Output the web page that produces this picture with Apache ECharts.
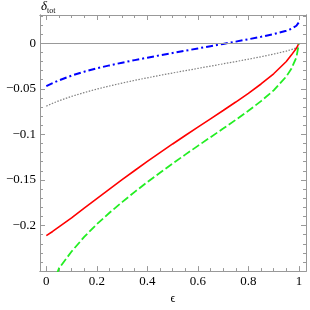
<!DOCTYPE html>
<html>
<head>
<meta charset="utf-8">
<script src="https://cdn.jsdelivr.net/npm/echarts@6/dist/echarts.min.js"></script>
<style>html,body{margin:0;padding:0;background:#fff}#c{width:310px;height:310px}</style>
</head>
<body>
<div id="c"></div>
<script>
var eps   = [0, 0.025, 0.05, 0.1, 0.15, 0.2, 0.25, 0.3, 0.35, 0.4, 0.45, 0.5, 0.55, 0.6, 0.65, 0.7, 0.75, 0.8, 0.85, 0.9, 0.95, 0.97, 0.99, 1];
var blue  = [-0.047, -0.0437, -0.0407, -0.0355, -0.0312, -0.0275, -0.0243, -0.0213, -0.0185, -0.0158, -0.0132, -0.0107, -0.0082, -0.0057, -0.0032, -0.0007, 0.0018, 0.0044, 0.0071, 0.0101, 0.0137, 0.0158, 0.0192, 0.023];
var gray  = [-0.069, -0.0659, -0.0631, -0.0583, -0.0541, -0.0503, -0.0469, -0.0437, -0.0407, -0.0379, -0.0352, -0.0326, -0.0301, -0.0276, -0.0251, -0.0226, -0.0201, -0.0175, -0.0148, -0.0119, -0.0086, -0.0070, -0.0050, -0.0035];
var red   = [-0.211, -0.2065, -0.2015, -0.1915, -0.181, -0.1705, -0.160, -0.1497, -0.1396, -0.1297, -0.1200, -0.1105, -0.1012, -0.0920, -0.0829, -0.0738, -0.0645, -0.0549, -0.0447, -0.0335, -0.020, -0.013, -0.0055, 0];
var green = [-0.289, -0.266, -0.247, -0.2285, -0.2125, -0.1985, -0.1860, -0.1743, -0.1631, -0.1523, -0.1420, -0.1320, -0.1222, -0.1126, -0.1031, -0.0936, -0.0840, -0.0741, -0.0635, -0.0517, -0.0365, -0.028, -0.0155, 0];
var xMajor = [0, 0.2, 0.4, 0.6, 0.8, 1];
var xMinor = [0.05, 0.1, 0.15, 0.25, 0.3, 0.35, 0.45, 0.5, 0.55, 0.65, 0.7, 0.75, 0.85, 0.9, 0.95];
var yMajor = [-0.25, -0.2, -0.15, -0.1, -0.05, 0];
var yMinor = [-0.24, -0.23, -0.22, -0.21, -0.19, -0.18, -0.17, -0.16, -0.14, -0.13, -0.12, -0.11, -0.09, -0.08, -0.07, -0.06, -0.04, -0.03, -0.02, -0.01, 0.01, 0.02, 0.03];
var yLabels = [-0.2, -0.15, -0.1, -0.05, 0];

function pts(ys){ return eps.map(function(x,i){ return [x, ys[i]]; }); }
var XMIN = -0.025, XMAX = 1.028, YMIN = -0.25, YMAX = 0.031;
var frame = '#999999';
var font = 'Liberation Serif';

function fmt(v){
  var r = Math.round(v*1000)/1000;
  var s = String(Math.abs(r));
  return (r < 0 ? '\u2212' : '') + s;
}
function xAx(pos, ticks, len, labels, extra){
  var o = {
    type: 'value', position: pos, min: XMIN, max: XMAX,
    axisLine: {show: true, onZero: false, lineStyle: {color: frame, width: 1}},
    axisTick: {show: true, inside: true, length: len, customValues: ticks, lineStyle: {color: frame}},
    axisLabel: labels ? {show: true, customValues: labels, formatter: fmt, fontFamily: font, fontSize: 13, color: '#000', margin: 4} : {show: false},
    splitLine: {show: false}
  };
  if (extra) for (var k in extra) o[k] = extra[k];
  return o;
}
function yAx(pos, ticks, len, labels){
  return {
    type: 'value', position: pos, min: YMIN, max: YMAX,
    axisLine: {show: true, onZero: false, lineStyle: {color: frame, width: 1}},
    axisTick: {show: true, inside: true, length: len, customValues: ticks, lineStyle: {color: frame}},
    axisLabel: labels ? {show: true, customValues: labels, formatter: fmt, fontFamily: font, fontSize: 13, color: '#000', margin: 4} : {show: false},
    splitLine: {show: false}
  };
}
function line(ys, color, width, type){
  return {type: 'line', data: pts(ys), showSymbol: false, smooth: false, clip: true,
          lineStyle: {color: color, width: width, type: type}};
}

var chart = echarts.init(document.getElementById('c'), null, {renderer: 'canvas'});
var sGray = line(gray, '#808080', 1.2, [1.5, 1.5]);
sGray.markLine = {silent: true, symbol: ['none','none'], label: {show: false},
  lineStyle: {color: '#999999', width: 1, type: 'solid'}, data: [{yAxis: 0}]};
chart.setOption({
  animation: false,
  backgroundColor: '#fff',
  grid: {left: 40, top: 15, right: 4, bottom: 29, containLabel: false},
  xAxis: [
    xAx('bottom', xMajor, 5, xMajor, {name: '\u03F5', nameLocation: 'middle', nameGap: 20, nameTextStyle: {fontFamily: font, fontSize: 12, color: '#000'}}),
    xAx('bottom', xMinor, 3, null),
    xAx('top', xMajor, 5, null),
    xAx('top', xMinor, 3, null)
  ],
  yAxis: [
    yAx('left', yMajor, 5, yLabels),
    yAx('left', yMinor, 3, null),
    yAx('right', yMajor, 5, null),
    yAx('right', yMinor, 3, null)
  ],
  graphic: [{
    type: 'text', left: 41, top: 0,
    style: {
      text: '{d|\u03B4}{s|tot}',
      rich: {
        d: {fontFamily: font, fontSize: 13, fontStyle: 'italic', fill: '#000'},
        s: {fontFamily: font, fontSize: 8, fill: '#000', padding: [8, 0, 0, 0]}
      }
    }
  }],
  series: [
    sGray,
    line(blue, '#0000ff', 2, [7, 3, 2, 3]),
    line(red, '#ff0000', 1.6, 'solid'),
    line(green, '#22ee22', 1.8, [8, 3])
  ]
});
</script>
</body>
</html>
